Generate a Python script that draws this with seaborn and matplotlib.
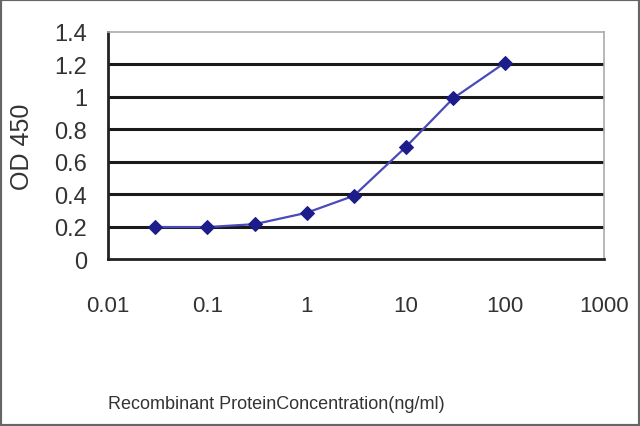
import matplotlib
matplotlib.use("Agg")
import matplotlib.pyplot as plt
import seaborn as sns
import pandas as pd
from matplotlib.patches import Rectangle

# concentration (ng/ml) vs OD450
conc = [0.03, 0.1, 0.3, 1, 3, 10, 30, 100]
od450 = [0.197, 0.197, 0.215, 0.285, 0.39, 0.69, 0.99, 1.21]
xticks = [0.01, 0.1, 1, 10, 100, 1000]
xticklabels = ['0.01', '0.1', '1', '10', '100', '1000']
yticks = [0, 0.2, 0.4, 0.6, 0.8, 1, 1.2, 1.4]
yticklabels = ['0', '0.2', '0.4', '0.6', '0.8', '1', '1.2', '1.4']

df = pd.DataFrame({'conc': conc, 'od': od450})

sns.set_style('white')
fam = ['Liberation Sans Narrow', 'Liberation Sans', 'DejaVu Sans']
plt.rcParams['font.family'] = fam

fig = plt.figure(figsize=(6.4, 4.27), dpi=100)
ax = fig.add_axes([0.169, 0.391, 0.775, 0.532])

for y in yticks[1:-1]:
    ax.axhline(y, color='#1a1a1a', lw=2.2, zorder=1)

sns.lineplot(data=df, x='conc', y='od', ax=ax, color='#4a4ab8', lw=1.6,
             marker='D', markersize=7, markerfacecolor='#1c1c8a',
             markeredgecolor='#1c1c8a', zorder=3)

ax.set_xscale('log')
ax.set_xlim(0.01, 1000)
ax.set_ylim(0, 1.4)
ax.set_xticks(xticks)
ax.set_xticklabels(xticklabels)
ax.minorticks_off()
ax.set_yticks(yticks)
ax.set_yticklabels(yticklabels)

ax.tick_params(axis='x', direction='in', length=5, width=1.2, color='#333333',
               pad=26, labelsize=16, labelcolor='#333333')
ax.tick_params(axis='y', length=0, pad=15, labelsize=17, labelcolor='#333333')

for s in ['left', 'bottom']:
    ax.spines[s].set_color('#222222')
    ax.spines[s].set_linewidth(2)
for s in ['top', 'right']:
    ax.spines[s].set_color('#aaaaaa')
    ax.spines[s].set_linewidth(1.2)

ax.set_xlabel('Recombinant ProteinConcentration(ng/ml)', fontsize=13,
              color='#333333')
ax.set_ylabel('OD 450', fontsize=18, color='#333333')
ax.xaxis.set_label_coords(0.34, -0.6)
ax.yaxis.set_label_coords(-0.15, 0.5)

fig.patches.append(Rectangle((0, 0), 1, 1, transform=fig.transFigure,
                             fill=False, edgecolor='#666666', lw=3))

fig.savefig('out.png', dpi=100, facecolor='white')
